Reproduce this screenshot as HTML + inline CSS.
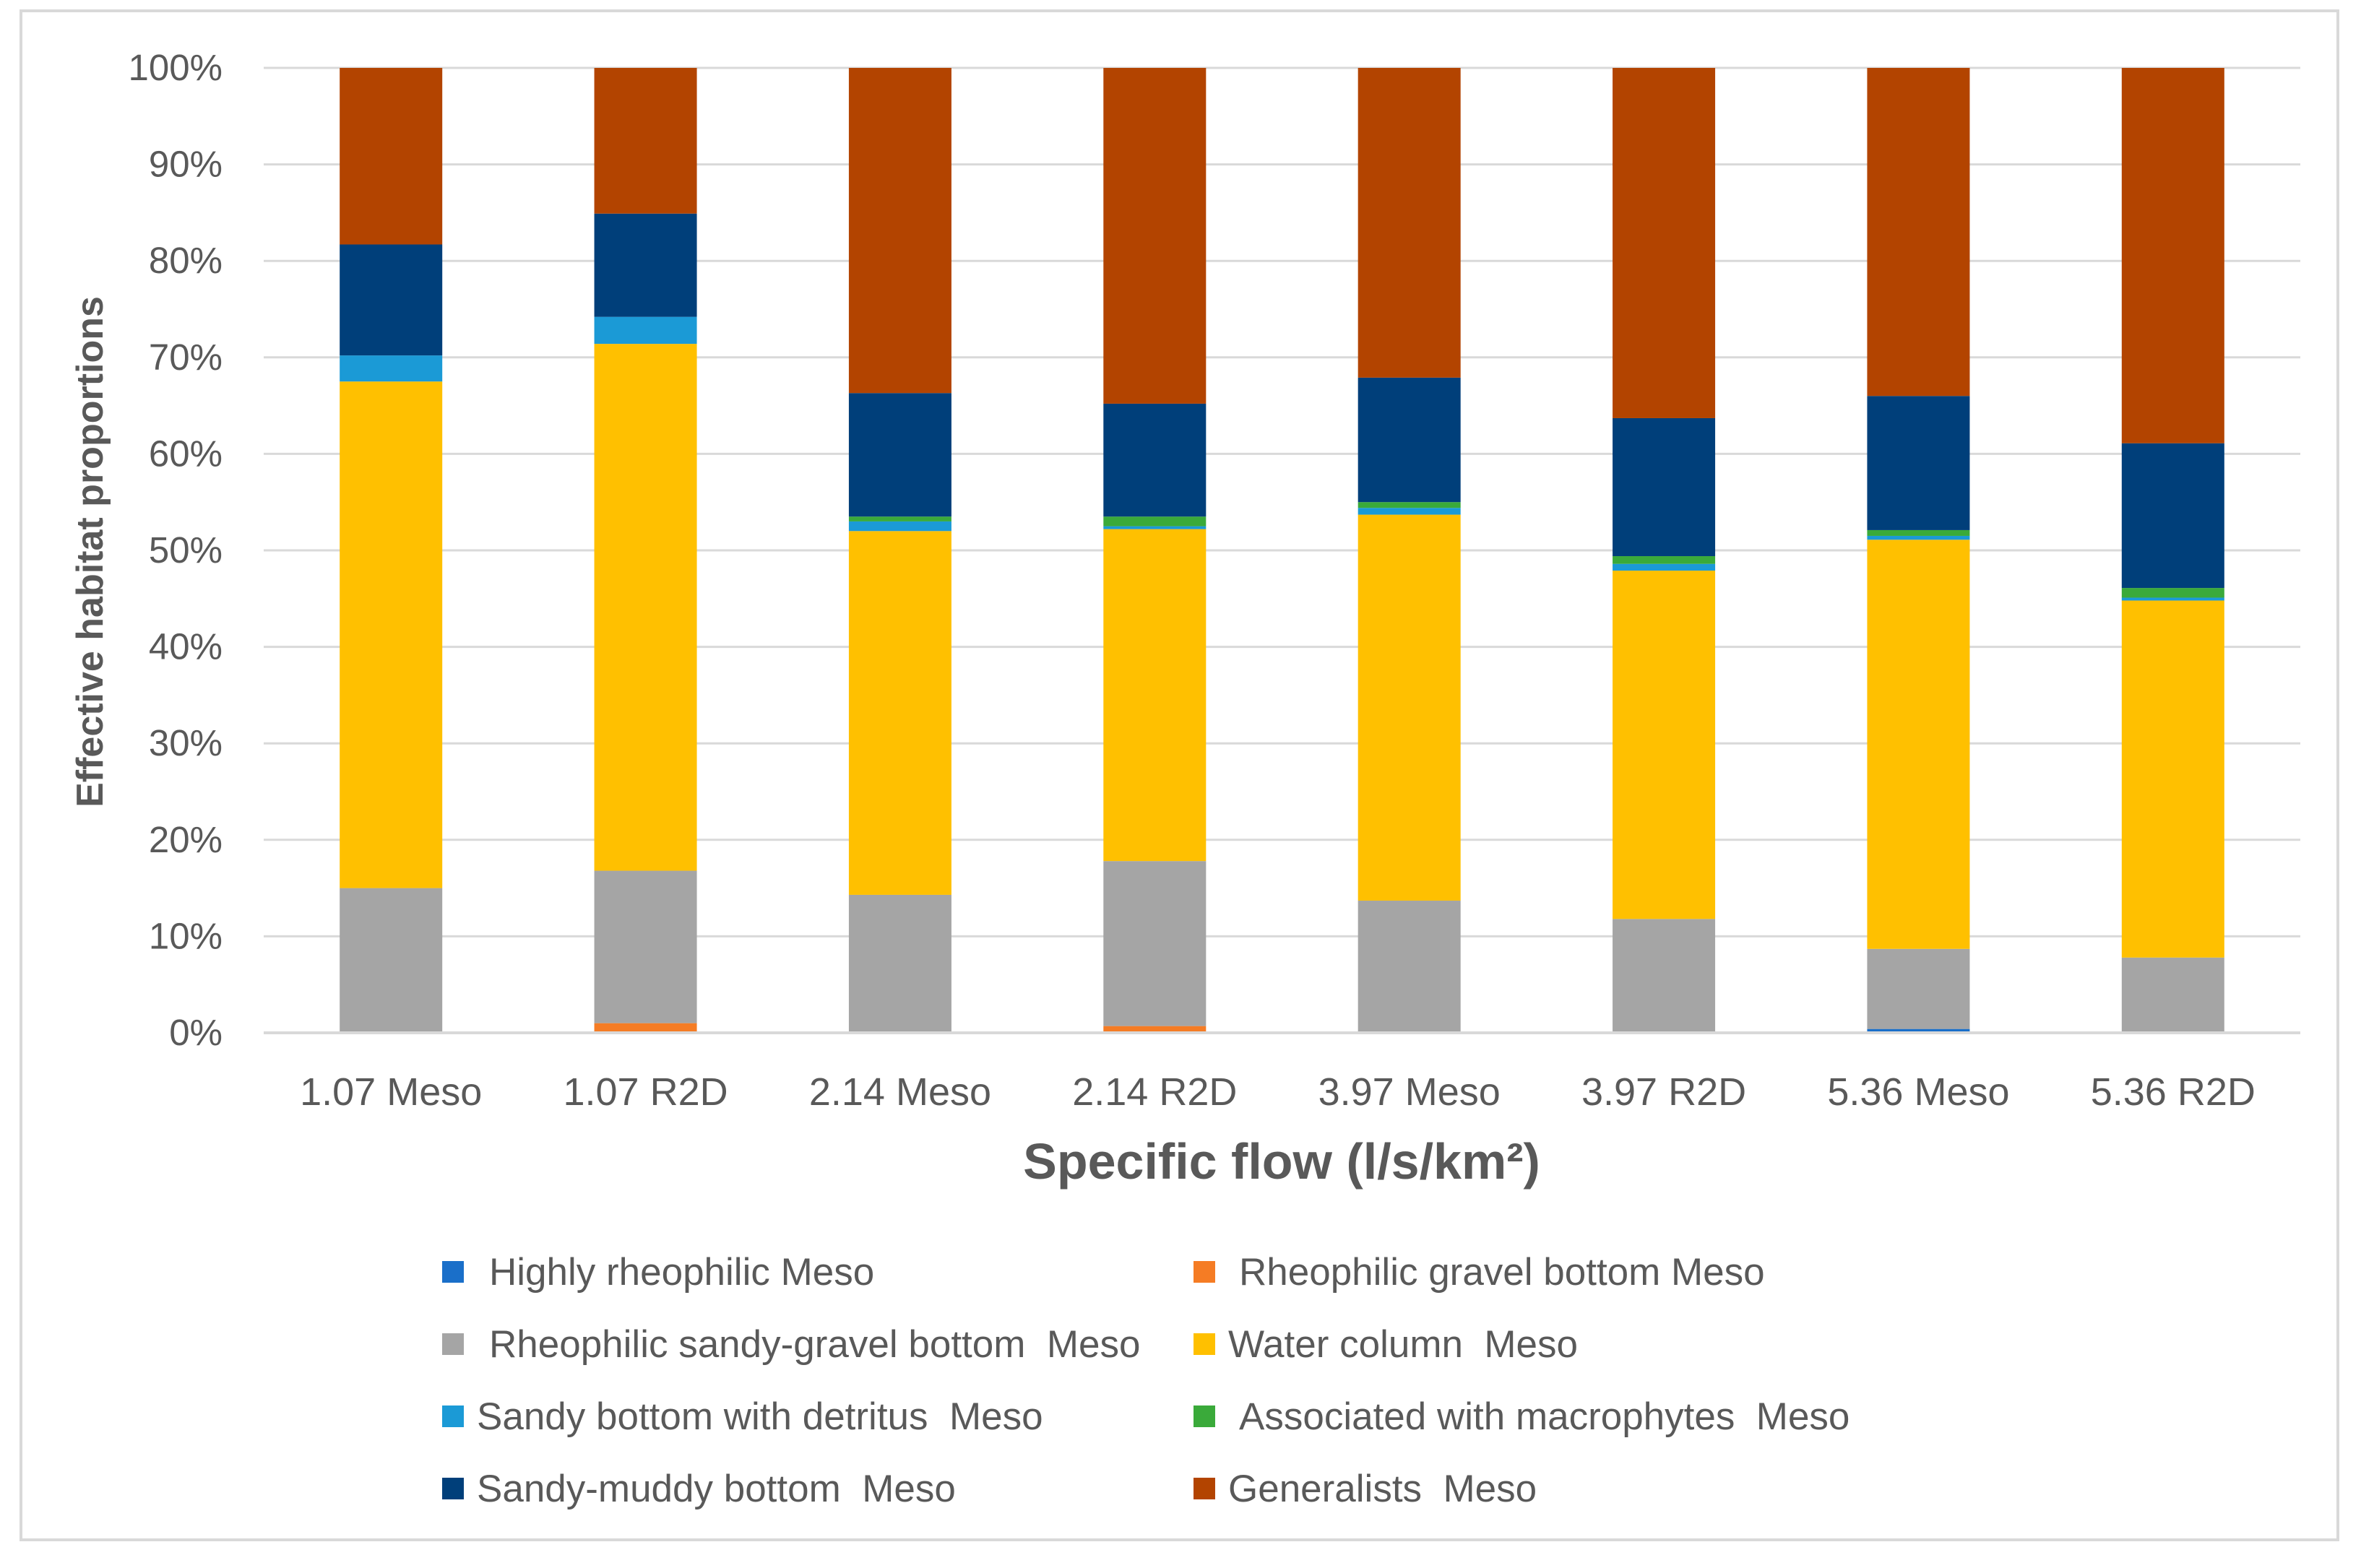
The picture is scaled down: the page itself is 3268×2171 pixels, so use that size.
<!DOCTYPE html>
<html><head><meta charset="utf-8"><style>
body{margin:0;background:#fff}
svg{display:block;font-family:"Liberation Sans",sans-serif}
text{white-space:pre}
</style></head><body>
<svg id="chart" width="3268" height="2171" viewBox="0 0 3268 2171" xmlns="http://www.w3.org/2000/svg">
<rect x="29" y="15" width="3207" height="2117" fill="#fff" stroke="#d9d9d9" stroke-width="4"/>
<g id="grid"></g><g id="bars"></g><g id="labels"></g><g id="legend"></g>
<text x="0" y="0" transform="translate(142,764) rotate(-90)" text-anchor="middle" font-size="52" font-weight="bold" fill="#595959">Effective habitat proportions</text>
<text x="1774" y="1632" text-anchor="middle" font-size="70" font-weight="bold" fill="#595959">Specific flow (l/s/km²)</text>
</svg>
<script>
const categories=["1.07 Meso","1.07 R2D","2.14 Meso","2.14 R2D","3.97 Meso","3.97 R2D","5.36 Meso","5.36 R2D"];
const seriesNames=["Highly rheophilic Meso","Rheophilic gravel bottom Meso","Rheophilic sandy-gravel bottom  Meso","Water column  Meso","Sandy bottom with detritus  Meso","Associated with macrophytes  Meso","Sandy-muddy bottom  Meso","Generalists  Meso"];
const seriesColors=["#1a6fc9","#f57c24","#a5a5a5","#ffc000","#1b9ad6","#3aaa3a","#003f7a","#b34400"];
const highlyRheo=[0,0,0,0,0,0,0.4,0];
const gravel=[0,1,0,0.7,0,0,0,0];
const sandyGravel=[15,15.8,14.3,17.1,13.7,11.8,8.3,7.8];
const waterColumn=[52.5,54.6,37.7,34.4,40,36.1,42.4,37];
const detritus=[2.7,2.8,1,0.3,0.7,0.7,0.4,0.3];
const macrophytes=[0,0,0.5,1,0.6,0.8,0.6,1];
const sandyMuddy=[11.5,10.7,12.8,11.7,12.9,14.3,13.9,15];
const generalists=[18.3,15.1,33.7,34.8,32.1,36.3,34,38.9];
const yTicks=[0,10,20,30,40,50,60,70,80,90,100];
const series=[highlyRheo,gravel,sandyGravel,waterColumn,detritus,macrophytes,sandyMuddy,generalists];
const NS="http://www.w3.org/2000/svg";
const L=365,R=3184,Y0=1430,Y100=94;
const y=v=>Y0-(Y0-Y100)*v/100;
const bw=(R-L)/categories.length;
const x=i=>L+bw*(i+0.5);
function mk(t,a,p){const e=document.createElementNS(NS,t);for(const k in a)e.setAttribute(k,a[k]);p.appendChild(e);return e;}
const grid=document.getElementById('grid'),bars=document.getElementById('bars'),labels=document.getElementById('labels'),legend=document.getElementById('legend');
yTicks.forEach(t=>{
 const l=mk('line',{x1:L,x2:R,y1:y(t),y2:y(t),stroke:'#d9d9d9','stroke-width':3},grid);
 
 
 const tx=mk('text',{x:308,y:y(t)+17,'text-anchor':'end','font-size':51,fill:'#595959'},labels);
 tx.textContent=t+'%';
 
 
});
categories.forEach((c,i)=>{
 let cum=0;
 series.forEach((s,j)=>{
  const v=s[i];
  if(v>0){
   const r=mk('rect',{x:x(i)-71,width:142,y:y(cum+v),height:y(cum)-y(cum+v),fill:seriesColors[j]},bars);
   
   
  }
  cum+=v;
 });
 const tx=mk('text',{x:x(i),y:1530,'text-anchor':'middle','font-size':54,fill:'#595959'},labels);
 tx.textContent=c;
 
 
});
const lx=[612,1652],rows=[1761,1861,1961,2061];
const tshift=[677,1715,677,1700,660,1715,660,1700];
seriesNames.forEach((n,j)=>{
 const col=j%2,row=Math.floor(j/2);
 const m=mk('rect',{x:lx[col],y:rows[row]-15,width:30,height:30,fill:seriesColors[j]},legend);
 
 
 const t=mk('text',{x:tshift[j],y:rows[row]+18,'font-size':53,fill:'#595959'},legend);
 t.textContent=n;
 
 
});
const base=mk('line',{x1:L,x2:R,y1:Y0,y2:Y0,stroke:'#d9d9d9','stroke-width':4},bars);


</script>
</body></html>
